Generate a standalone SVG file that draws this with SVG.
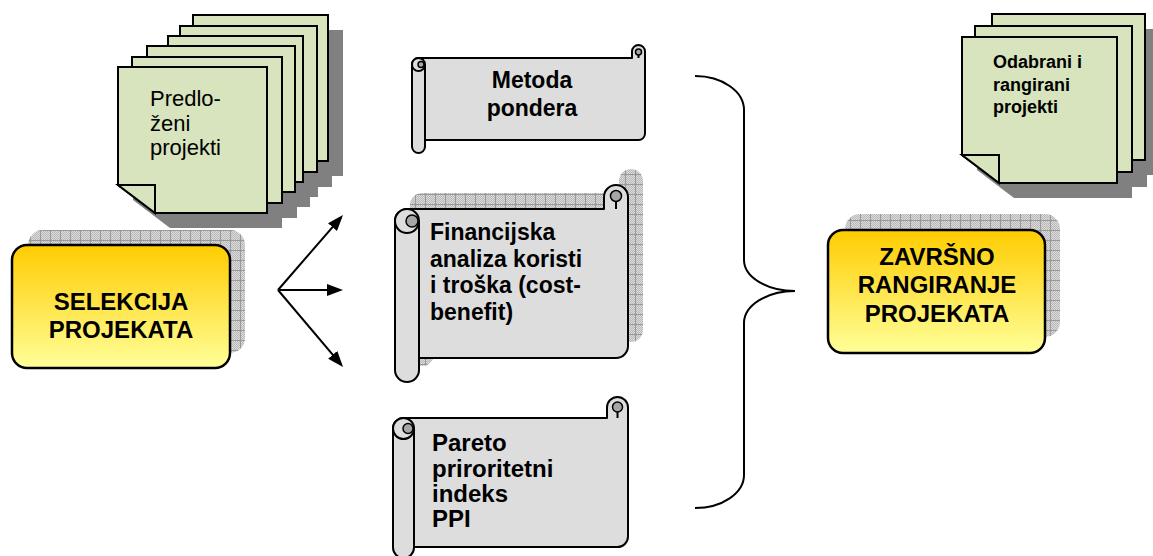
<svg xmlns="http://www.w3.org/2000/svg" width="1153" height="556" viewBox="0 0 1153 556">
<defs>
<style>
.doc{fill:#D7E4BD;stroke:#000;stroke-width:2}
.dsh{fill:#808080}
.box{fill:url(#gold);stroke:#000;stroke-width:2.5}
.scr{fill:#DDDDDD;stroke:#000;stroke-width:2;stroke-linejoin:round}
.curl{fill:#A6A6A6;stroke:#000;stroke-width:1.5}
.ln{fill:none;stroke:#000;stroke-width:2}
.chk{fill:url(#chk)}
.grd{fill:url(#grid)}
text{font-family:"Liberation Sans",Arial,sans-serif;fill:#000}
.b{font-weight:bold;font-size:24px}
.b23{font-weight:bold;font-size:23px}
.m{text-anchor:middle}
.r{font-size:22px}
.s{font-weight:bold;font-size:18px}
</style>
<linearGradient id="gold" x1="0" y1="0" x2="0" y2="1">
<stop offset="0" stop-color="#FFCC00"/>
<stop offset="1" stop-color="#FFFF99"/>
</linearGradient>
<pattern id="chk" width="2" height="2" patternUnits="userSpaceOnUse">
<rect width="2" height="2" fill="#DCDCDC"/>
<rect width="1" height="1" fill="#B8B8B8"/>
<rect x="1" y="1" width="1" height="1" fill="#B8B8B8"/>
</pattern>
<pattern id="grid" width="10" height="10" patternUnits="userSpaceOnUse">
<path d="M0 0.5H10M0.5 0V10" stroke="#999" stroke-width="1" fill="none"/>
</pattern>
<marker id="ah" viewBox="0 0 16 12" refX="13" refY="6" markerWidth="16" markerHeight="12" markerUnits="userSpaceOnUse" orient="auto">
<path d="M0 0L16 6L0 12Z" fill="#000"/>
</marker>
</defs>

<g id="predlozeni-projekti">
<g class="dsh" transform="translate(15 15)">
<path d="M193,15H328V161H230L193,133Z"/>
<path d="M180,26H317V172H217L180,144Z"/>
<path d="M168,36H303V182H205L168,154Z"/>
<path d="M147,46H295V192H184L147,164Z"/>
<path d="M132,57H282V203H169L132,175Z"/>
<path d="M118,67H267V213H155L118,185Z"/>
</g>
<path class="doc" d="M193,15H328V161H230L193,133Z"/>
<path class="doc" d="M180,26H317V172H217L180,144Z"/>
<path class="doc" d="M168,36H303V182H205L168,154Z"/>
<path class="doc" d="M147,46H295V192H184L147,164Z"/>
<path class="doc" d="M132,57H282V203H169L132,175Z"/>
<path class="doc" d="M118,67H267V213H155L118,185Z"/>
<path class="doc" d="M118,185H155V213Z"/>
<text class="r" x="150" y="106">Predlo-</text>
<text class="r" x="150" y="131">ženi</text>
<text class="r" x="150" y="155">projekti</text>
</g>

<g id="selekcija">
<rect class="chk" x="28" y="230" width="217" height="123" rx="15"/>
<rect class="grd" x="28" y="230" width="217" height="123" rx="15"/>
<rect class="box" x="12" y="245" width="218" height="123" rx="15"/>
<text class="b m" x="121" y="310">SELEKCIJA</text>
<text class="b m" x="121" y="338">PROJEKATA</text>
</g>

<g id="metoda-pondera">
<path class="scr" d="M412,64.5A6.5,6.5 0 0 1 418.5,58L632,58L632,51.5A6.5,6.5 0 0 1 645,51.5L645,133.5A6.5,6.5 0 0 1 638.5,140L425,140L425,146.5A6.5,6.5 0 0 1 412,146.5Z"/>
<circle class="scr" cx="418.5" cy="64.5" r="6.5"/>
<path class="ln" d="M425,64.5V140"/>
<circle class="curl" cx="421" cy="64.5" r="3"/>
<circle class="curl" cx="638.5" cy="52" r="3"/>
<path class="ln" d="M638.5,55V58"/>
<text class="b23 m" x="532" y="88">Metoda</text>
<text class="b23 m" x="532" y="116">pondera</text>
</g>

<g id="financijska-analiza">
<g transform="translate(15 -16)">
<path class="chk" d="M395,221A12,12 0 0 1 407,209L604,209L604,197A12,12 0 0 1 628,197L628,346A12,12 0 0 1 616,358L419,358L419,370A12,12 0 0 1 395,370Z"/>
<path class="grd" d="M395,221A12,12 0 0 1 407,209L604,209L604,197A12,12 0 0 1 628,197L628,346A12,12 0 0 1 616,358L419,358L419,370A12,12 0 0 1 395,370Z"/>
</g>
<path class="scr" d="M395,221A12,12 0 0 1 407,209L604,209L604,197A12,12 0 0 1 628,197L628,346A12,12 0 0 1 616,358L419,358L419,370A12,12 0 0 1 395,370Z"/>
<circle class="scr" cx="407" cy="221" r="12"/>
<path class="ln" d="M419,221V358"/>
<circle class="curl" cx="412" cy="221" r="6"/>
<circle class="curl" cx="616" cy="196" r="5.5"/>
<path class="ln" d="M616,201.5V209"/>
<text class="b23" x="430" y="240">Financijska</text>
<text class="b23" x="430" y="267">analiza koristi</text>
<text class="b23" x="430" y="293">i troška (cost-</text>
<text class="b23" x="430" y="320">benefit)</text>
</g>

<g id="pareto">
<path class="scr" d="M393,428.5A10.5,10.5 0 0 1 403.5,418L607,418L607,407.5A10.5,10.5 0 0 1 628,407.5L628,536.5A10.5,10.5 0 0 1 617.5,547L414,547L414,547.5A10.5,10.5 0 0 1 393,547.5Z"/>
<circle class="scr" cx="403.5" cy="428.5" r="10.5"/>
<path class="ln" d="M414,428.5V547"/>
<circle class="curl" cx="408" cy="428.5" r="5"/>
<circle class="curl" cx="617.5" cy="407" r="5"/>
<path class="ln" d="M617.5,412V418"/>
<text class="b" x="432" y="451">Pareto</text>
<text class="b" x="432" y="477">priroritetni</text>
<text class="b" x="432" y="502">indeks</text>
<text class="b" x="432" y="527">PPI</text>
</g>

<g id="zavrsno-rangiranje">
<rect class="chk" x="845" y="214" width="215" height="123" rx="15"/>
<rect class="grd" x="845" y="214" width="215" height="123" rx="15"/>
<rect class="box" x="828" y="230" width="217" height="123" rx="15"/>
<text class="b m" x="937" y="265">ZAVRŠNO</text>
<text class="b m" x="937" y="293">RANGIRANJE</text>
<text class="b m" x="937" y="322">PROJEKATA</text>
</g>

<g id="odabrani-projekti">
<g class="dsh" transform="translate(15 15)">
<path d="M992,14H1145V160H1029L992,132Z"/>
<path d="M975,26H1132V172H1012L975,144Z"/>
<path d="M962,37H1117V183H999L962,155Z"/>
</g>
<path class="doc" d="M992,14H1145V160H1029L992,132Z"/>
<path class="doc" d="M975,26H1132V172H1012L975,144Z"/>
<path class="doc" d="M962,37H1117V183H999L962,155Z"/>
<path class="doc" d="M962,155H999V183Z"/>
<text class="s" x="993" y="68">Odabrani i</text>
<text class="s" x="993" y="91">rangirani</text>
<text class="s" x="993" y="113">projekti</text>
</g>

<g id="connectors">
<path class="ln" d="M278,290L341,217.3" marker-end="url(#ah)"/>
<path class="ln" d="M278,290L340,290" marker-end="url(#ah)"/>
<path class="ln" d="M278,290L341.1,364.7" marker-end="url(#ah)"/>
<path class="ln" d="M695,76A49,34 0 0 1 744,110L744,260A51,31 0 0 0 795,291A51,32 0 0 0 744,323L744,475A49,33 0 0 1 695,508"/>
</g>
</svg>
